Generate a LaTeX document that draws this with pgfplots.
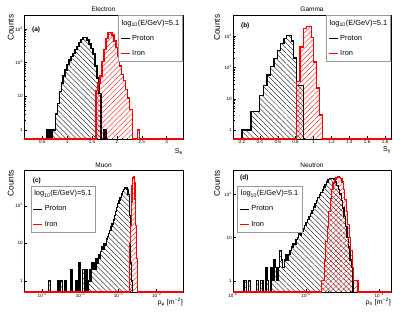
\documentclass[border=0pt]{standalone}
\usepackage{fontspec}
\setmainfont{Liberation Sans}
\usepackage{pgfplots}
\pgfplotsset{compat=1.18}
\usetikzlibrary{patterns.meta}
\tikzset{
  phatch/.style={pattern={Lines[angle=-45,distance=3.6pt,line width=0.35pt]},pattern color=black},
  fhatch/.style={pattern={Lines[angle=45,distance=3.6pt,line width=0.35pt]},pattern color=red},
}
\pgfplotsset{
  legend image code/.code={\draw[#1] (0pt,0pt) -- (9pt,0pt);},
  every axis y label/.style={rotate=90, anchor=south east, inner sep=0pt, font=\fontsize{8.3}{9}\selectfont},
  every axis x label/.style={anchor=north east, inner sep=0pt, font=\fontsize{7}{8}\selectfont},
  myroot/.style={
    scale only axis, anchor=south west, clip=false,
    tick align=inside, xtick pos=left, ytick pos=left,
    major tick length=3pt, minor tick length=1.5pt,
    tick style={line width=0.4pt, black},
    axis line style={line width=0.5pt},
    tick label style={font=\fontsize{4.6}{5}\selectfont, inner sep=1pt},
    title style={font=\fontsize{6.5}{7}\selectfont, anchor=center},
    ylabel={Counts},
    legend style={draw=gray!80, line width=0.6pt, font=\fontsize{7.4}{8.5}\selectfont,
      inner xsep=1.5pt, inner ysep=2.5pt, row sep=4.5pt, cells={anchor=west, inner sep=1pt}},
    legend cell align=left,
  },
  rhist/.style={const plot mark left, line width=1.3pt, mark=none},
}
\newcommand{\rootlegend}{%
  \addlegendimage{empty legend}
  \addlegendentry{\hspace*{-10.5pt}log\textsubscript{10}(E/GeV)=5.1}
  \addlegendimage{black, line width=1.3pt}
  \addlegendentry{Proton}
  \addlegendimage{red, line width=1.3pt}
  \addlegendentry{Iron}
}
\begin{document}
\begin{tikzpicture}
\useasboundingbox (0,0) rectangle (415pt,317pt);

% ---------------- (a) Electron
\begin{semilogyaxis}[myroot, at={(24pt,178pt)}, width=159pt, height=124pt,
  title={Electron},
  xmin=0.133, xmax=3.33, ymin=0.54, ymax=2600,
  xtick={0.5,1,1.5,2,2.5,3}, xticklabels={0.5,1,1.5,2,2.5,3}, minor x tick num=4,
  ytick={1,10,100,1000}, yticklabels={1,10,10\textsuperscript{2},10\textsuperscript{3}},
  xlabel={S\textsubscript{e}}, xlabel style={at={(rel axis cs:1,-0.075)}},
  ylabel style={at={(rel axis cs:-0.063,1.005)}},
  legend style={at={(1,1)}, anchor=north east},
]
\addplot[rhist, black, phatch, forget plot] coordinates {
(0.58,0.54) (0.58,1) (0.595,0.54) (0.605,1) (0.62,0.54) (0.63,1) (0.64,0.54)
(0.665,1) (0.68,0.54) (0.69,1) (0.70,0.54) (0.71,1)
(0.77,3) (0.80,6) (0.84,14) (0.88,25) (0.92,40) (0.96,60)
(1.00,90) (1.04,120) (1.08,150) (1.12,190) (1.16,240) (1.20,300) (1.24,390)
(1.28,480) (1.32,560) (1.36,550) (1.40,470) (1.44,360) (1.48,260) (1.52,180)
(1.56,80) (1.60,35) (1.64,12) (1.68,0.54) (1.74,1) (1.78,0.54)};
\addplot[rhist, red, fhatch, forget plot] coordinates {
(0.133,0.54) (1.58,15) (1.62,25) (1.66,40) (1.70,110) (1.74,250) (1.78,520)
(1.82,780) (1.86,800) (1.90,660) (1.94,440) (1.98,280) (2.02,150) (2.06,80)
(2.10,45) (2.14,30) (2.18,16) (2.22,9) (2.26,4) (2.31,0.54) (2.41,1) (2.45,0.54) (3.33,0.54)};
\rootlegend
\node[anchor=west, font=\bfseries\fontsize{6.5}{7}\selectfont, inner sep=0pt] at (rel axis cs:0.05,0.88) {(a)};
\end{semilogyaxis}

% ---------------- (b) Gamma
\begin{semilogyaxis}[myroot, at={(233pt,178pt)}, width=158pt, height=124pt,
  title={Gamma},
  xmin=0.1, xmax=1.867, ymin=0.52, ymax=4700,
  xtick={0.2,0.4,0.6,0.8,1,1.2,1.4,1.6,1.8}, xticklabels={0.2,0.4,0.6,0.8,1,1.2,1.4,1.6,1.8}, minor x tick num=1,
  ytick={1,10,100,1000}, yticklabels={1,10,10\textsuperscript{2},10\textsuperscript{3}},
  xlabel={S\textsubscript{γ}}, xlabel style={at={(rel axis cs:1,-0.06)}},
  ylabel style={at={(rel axis cs:-0.082,1.005)}},
  legend style={at={(1,1)}, anchor=north east},
]
\addplot[rhist, black, phatch, forget plot] coordinates {
(0.2,0.52) (0.2,1) (0.30,4) (0.40,13) (0.44,27) (0.48,57) (0.52,105) (0.56,195)
(0.60,340) (0.63,590) (0.67,850) (0.70,1070) (0.755,700) (0.78,200) (0.81,27) (0.89,0.52)};
\addplot[rhist, red, fhatch, forget plot] coordinates {
(0.1,0.52) (0.81,35) (0.85,450) (0.89,1750) (0.925,2000) (0.975,900) (1.0,150)
(1.03,22) (1.07,3) (1.10,0.52) (1.867,0.52)};
\rootlegend
\node[anchor=west, font=\bfseries\fontsize{6.5}{7}\selectfont, inner sep=0pt] at (rel axis cs:0.05,0.91) {(b)};
\end{semilogyaxis}

% ---------------- (c) Muon
\begin{loglogaxis}[myroot, at={(24pt,25pt)}, width=159pt, height=122pt,
  title={Muon}, title style={yshift=-1pt},
  xmin=3.3e-6, xmax=0.049, ymin=0.51, ymax=890,
  xtick={1e-5,1e-4,1e-3,1e-2}, xticklabels={10\textsuperscript{−5},10\textsuperscript{−4},10\textsuperscript{−3},10\textsuperscript{−2}},
  ytick={1,10,100}, yticklabels={1,10,10\textsuperscript{2}},
  xlabel={ρ\textsubscript{μ} [m\textsuperscript{−2}]}, xlabel style={at={(rel axis cs:1,-0.05)}},
  ylabel style={at={(rel axis cs:-0.063,1.0)}},
  legend style={at={(0.042,0.871)}, anchor=north west},
]
\addplot[rhist, black, phatch, forget plot] coordinates {
(1.445e-5,0.51) (1.445e-5,1) (1.622e-5,0.51) (2.512e-5,1) (2.754e-5,0.51)
(3.020e-5,1) (3.311e-5,0.51) (3.802e-5,1) (4.169e-5,0.51) (5.495e-5,2) (6.026e-5,0.51)
(7.586e-5,1) (8.318e-5,0.51) (9.120e-5,3) (1.0e-4,0.51) (1.148e-4,2) (1.259e-4,0.51)
(1.349e-4,2) (1.479e-4,0.51) (1.585e-4,1) (1.698e-4,2) (1.820e-4,1) (1.950e-4,3)
(2.089e-4,2) (2.239e-4,3) (2.399e-4,2) (2.570e-4,4) (2.754e-4,3) (2.951e-4,5)
(3.162e-4,4) (3.388e-4,6) (3.631e-4,8) (3.891e-4,7) (4.169e-4,10) (4.467e-4,9)
(4.786e-4,13) (5.129e-4,15) (5.495e-4,18) (5.888e-4,22) (6.310e-4,28) (6.761e-4,33)
(7.244e-4,42) (7.762e-4,55) (8.318e-4,70) (8.913e-4,90) (9.550e-4,115) (1.023e-3,140)
(1.096e-3,165) (1.175e-3,205) (1.259e-3,240) (1.349e-3,270) (1.445e-3,295)
(1.549e-3,300) (1.660e-3,265) (1.778e-3,200) (1.905e-3,56) (2.042e-3,3) (2.188e-3,1)
(2.344e-3,0.51)};
\addplot[rhist, red, fhatch, forget plot] coordinates {
(3.3e-6,0.51) (1.950e-3,10) (2.042e-3,30) (2.138e-3,120) (2.239e-3,350) (2.344e-3,550)
(2.455e-3,590) (2.570e-3,420) (2.692e-3,150) (2.818e-3,30) (2.951e-3,4) (3.090e-3,0.51)
(0.049,0.51)};
\rootlegend
\node[anchor=west, font=\bfseries\fontsize{6.5}{7}\selectfont, inner sep=0pt] at (rel axis cs:0.055,0.91) {(c)};
\end{loglogaxis}

% ---------------- (d) Neutron
\begin{loglogaxis}[myroot, at={(233pt,25pt)}, width=158pt, height=122pt,
  title={Neutron}, title style={yshift=-1pt},
  xmin=1e-6, xmax=1.45e-4, ymin=0.55, ymax=360,
  xtick={1e-6,1e-5,1e-4}, xticklabels={10\textsuperscript{−6},10\textsuperscript{−5},10\textsuperscript{−4}},
  ytick={1,10,100}, yticklabels={1,10,10\textsuperscript{2}},
  xlabel={ρ\textsubscript{n} [m\textsuperscript{−2}]}, xlabel style={at={(rel axis cs:1,-0.05)}},
  ylabel style={at={(rel axis cs:-0.082,1.0)}},
  legend style={at={(0.027,0.871)}, anchor=north west},
]
\addplot[rhist, black, phatch, forget plot] coordinates {
(1.413e-6,0.55) (1.413e-6,1) (1.514e-6,0.55) (1.622e-6,1) (1.738e-6,0.55)
(2.089e-6,1) (2.239e-6,0.55) (2.399e-6,1) (2.570e-6,0.55) (2.818e-6,2) (2.951e-6,1)
(3.090e-6,0.55) (3.311e-6,2) (3.467e-6,1) (3.631e-6,3) (3.802e-6,2) (3.981e-6,1)
(4.169e-6,2) (4.365e-6,5) (4.571e-6,3) (4.786e-6,2) (5.012e-6,3) (5.248e-6,4)
(5.495e-6,3) (5.754e-6,4) (6.026e-6,5) (6.310e-6,6) (6.607e-6,7) (6.918e-6,7)
(7.244e-6,9) (7.586e-6,10) (7.943e-6,12) (8.318e-6,11) (8.710e-6,14) (9.120e-6,16)
(9.550e-6,19) (1.0e-5,22) (1.047e-5,26) (1.096e-5,30) (1.148e-5,36) (1.202e-5,42)
(1.259e-5,50) (1.318e-5,60) (1.380e-5,70) (1.445e-5,82) (1.514e-5,95) (1.585e-5,110)
(1.660e-5,125) (1.738e-5,145) (1.820e-5,165) (1.905e-5,190) (1.995e-5,215)
(2.089e-5,230) (2.188e-5,225) (2.291e-5,232) (2.399e-5,215) (2.512e-5,190)
(2.630e-5,160) (2.754e-5,130) (2.884e-5,100) (3.020e-5,72) (3.162e-5,48) (3.311e-5,30)
(3.467e-5,18) (3.631e-5,10) (3.802e-5,6) (3.981e-5,3) (4.169e-5,2) (4.365e-5,0.55)};
\addplot[rhist, red, fhatch, forget plot] coordinates {
(1e-6,0.55) (1.622e-5,1) (1.778e-5,3) (1.862e-5,8) (1.950e-5,18) (2.042e-5,40)
(2.138e-5,80) (2.239e-5,130) (2.344e-5,180) (2.455e-5,215) (2.570e-5,240) (2.692e-5,250)
(2.818e-5,245) (2.951e-5,228) (3.090e-5,190) (3.236e-5,130) (3.388e-5,75) (3.548e-5,40)
(3.715e-5,20) (3.890e-5,10) (4.074e-5,5) (4.266e-5,2) (4.467e-5,1) (5.129e-5,0.55)
(1.45e-4,0.55)};
\rootlegend
\node[anchor=west, font=\bfseries\fontsize{6.5}{7}\selectfont, inner sep=0pt] at (rel axis cs:0.044,0.934) {(d)};
\end{loglogaxis}
\end{tikzpicture}
\end{document}
